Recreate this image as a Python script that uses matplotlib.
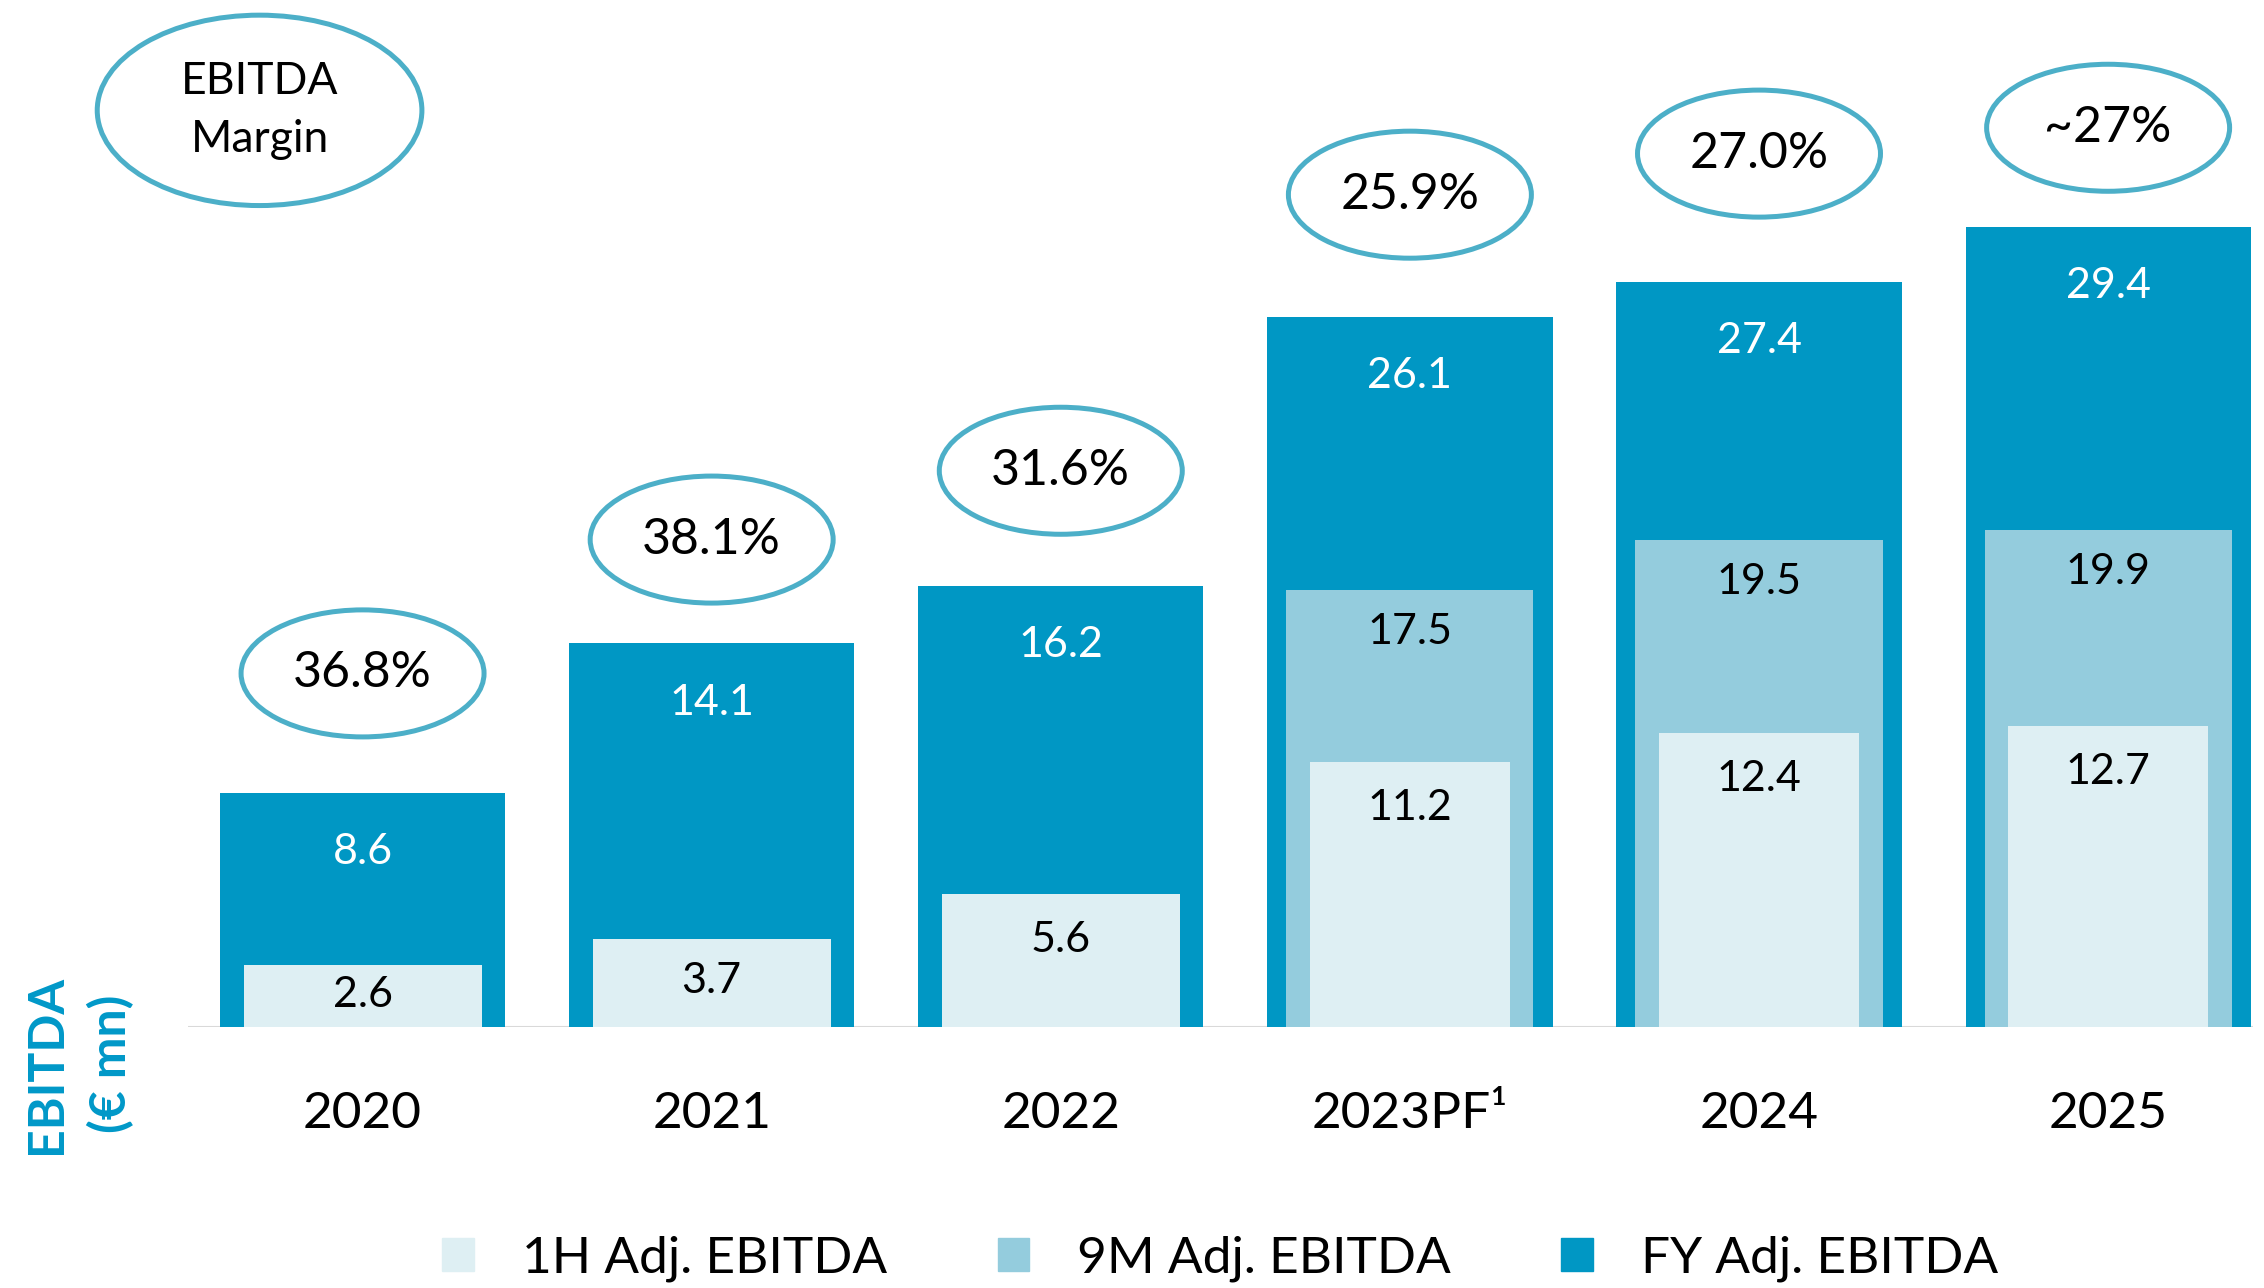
import numpy as np
import matplotlib
matplotlib.use('Agg')
from matplotlib import pyplot as plt
from matplotlib.patches import Ellipse, Patch

years = ['2020', '2021', '2022', '2023PF¹', '2024', '2025']
fy_ebitda = [8.6, 14.1, 16.2, 26.1, 27.4, 29.4]
m9_ebitda = [np.nan, np.nan, np.nan, 17.5, 19.5, 19.9]
h1_ebitda = [2.6, 3.7, 5.6, 11.2, 12.4, 12.7]
margins = ['36.8%', '38.1%', '31.6%', '25.9%', '27.0%', '~27%']
legend_labels = ['1H Adj. EBITDA', '9M Adj. EBITDA', 'FY Adj. EBITDA']

FY_COL = '#0097C4'
M9_COL = '#94CCDD'
H1_COL = '#DEEFF3'
RING = '#4CAFC8'

# how far each margin bubble sits above its FY bar (FY units)
bubble_lift = [4.4, 3.82, 4.25, 4.5, 4.71, 3.66]

plt.rcParams['font.family'] = ['Lato', 'DejaVu Sans']

fig = plt.figure(figsize=(22.64, 12.88), dpi=100)
ax = fig.add_axes([188 / 2264, 261 / 1288, (2253 - 188) / 2264, 1027 / 1288])
ax_m9 = ax.twinx()
ax_h1 = ax.twinx()

x = np.arange(len(years))
ax.set_xlim(-0.50, 5.415)
FY_TOP = 1027 / 27.2
ax.set_ylim(0, FY_TOP)            # FY scale
ax_m9.set_ylim(0, 1027 / 25.0)    # 9M scale
ax_h1.set_ylim(0, 1027 / 23.7)    # 1H scale

ax.bar(x, fy_ebitda, width=0.817, color=FY_COL, zorder=2)
ax_m9.bar(x, m9_ebitda, width=0.708, color=M9_COL, zorder=2)
h1_w = np.where(np.isnan(m9_ebitda), 0.682, 0.573)
ax_h1.bar(x, h1_ebitda, width=h1_w, color=H1_COL, zorder=3)

ax.axhline(0, color='#D9D9D9', lw=2.2, zorder=1)

# value labels
for i in x:
    ax.text(i, fy_ebitda[i] - 2.17, f'{fy_ebitda[i]:.1f}', ha='center', va='center',
            color='white', fontsize=31, zorder=5)
    if not np.isnan(m9_ebitda[i]):
        ax_m9.text(i, m9_ebitda[i] - 1.7, f'{m9_ebitda[i]:.1f}', ha='center', va='center',
                   color='black', fontsize=31, zorder=5)
    off = min(1.95, 0.48 * h1_ebitda[i])
    ax_h1.text(i, h1_ebitda[i] - off, f'{h1_ebitda[i]:.1f}', ha='center', va='center',
               color='black', fontsize=31, zorder=5)

# margin bubbles, drawn on the top-most axes
ax_top = ax_h1
to_top = ax_h1.get_ylim()[1] / FY_TOP
for i in x:
    cy = (fy_ebitda[i] + bubble_lift[i]) * to_top
    ax_top.add_patch(Ellipse((i, cy), 0.696, 4.67 * to_top,
                             facecolor='white', edgecolor=RING, lw=3.6, zorder=6, clip_on=False))
    ax_top.text(i, cy, margins[i], ha='center', va='center',
                fontsize=36, color='black', zorder=7)

# "EBITDA Margin" bubble key
ax_top.add_patch(Ellipse((-0.295, 33.7 * to_top), 0.93, 7.0 * to_top,
                         facecolor='white', edgecolor=RING, lw=3.6, zorder=6, clip_on=False))
ax_top.text(-0.295, 33.7 * to_top, 'EBITDA\nMargin', ha='center', va='center',
            fontsize=32, linespacing=1.5, zorder=7)

ax.set_xticks(x)
ax.set_xticklabels(years, fontsize=37)
ax.tick_params(axis='x', length=0, pad=46)
for a in (ax, ax_m9, ax_h1):
    a.set_yticks([])
    for s in a.spines.values():
        s.set_visible(False)

fig.text(79 / 2264, 1 - 1064 / 1288, 'EBITDA\n(€ mn)', rotation=90, ha='center', va='center',
         fontsize=36, fontweight='bold', color='#0098C8', linespacing=1.45)

handles = [Patch(color=c) for c in (H1_COL, M9_COL, FY_COL)]
fig.legend(handles, legend_labels, loc='center', bbox_to_anchor=(0.539, 0.0225), ncol=3,
           frameon=False, fontsize=37, handlelength=0.62, handleheight=0.62,
           handletextpad=0.93, columnspacing=2.15)

fig.savefig('out.png', dpi=100)
